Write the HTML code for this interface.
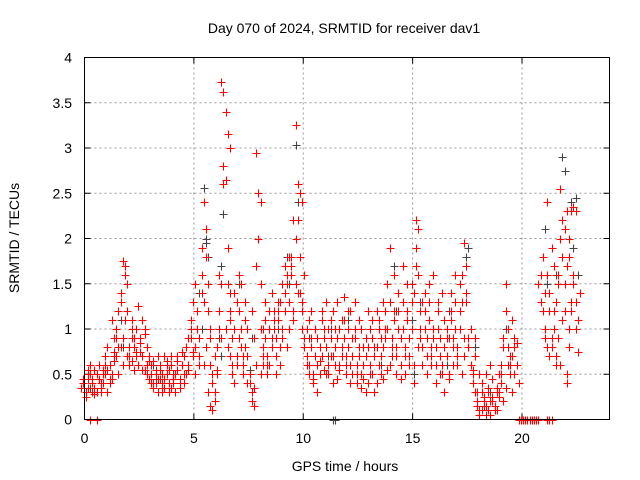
<!DOCTYPE html>
<html><head><meta charset="utf-8"><style>
body{margin:0;background:#fff}
svg{display:block;font-family:"Liberation Sans",sans-serif}
</style></head><body>
<svg id="chart" width="640" height="480" xmlns="http://www.w3.org/2000/svg">
<text x="344" y="33" font-size="14" text-anchor="middle">Day 070 of 2024, SRMTID for receiver dav1</text>
<text transform="translate(19,238) rotate(-90)" font-size="14" text-anchor="middle">SRMTID / TECUs</text>
<text x="345" y="471" font-size="14" text-anchor="middle">GPS time / hours</text>
<g id="grid"></g><g id="ticks"></g><g id="gray"></g><g id="red"></g>
<rect x="84.5" y="57.5" width="525" height="362" fill="none" stroke="#000" stroke-width="1"/>
</svg>
<script>
const xTicks=[0,5,10,15,20];
const yTicks=[0,0.5,1,1.5,2,2.5,3,3.5,4];
const yTickLabels=["0","0.5","1","1.5","2","2.5","3","3.5","4"];
const redTimes=[0,0.1,0.2,0.3,0.4,0.5,0.6,0.7,0.8,0.9,1.0,1.1,1.2,1.3,1.4,1.5,1.6,1.7,1.8,1.9,2.0,2.1,2.2,2.3,2.4,2.5,2.6,2.7,2.8,2.9,3.0,3.1,3.2,3.3,3.4,3.5,3.6,3.7,3.8,3.9,4.0,4.1,4.2,4.3,4.4,4.5,4.6,4.7,4.8,4.9,5.0,5.1,5.2,5.3,5.4,5.5,5.6,5.7,5.8,5.9,6.0,6.1,6.2,6.3,6.4,6.5,6.6,6.7,6.8,6.9,7.0,7.1,7.2,7.3,7.4,7.5,7.6,7.7,7.8,7.9,8.0,8.1,8.2,8.3,8.4,8.5,8.6,8.7,8.8,8.9,9.0,9.1,9.2,9.3,9.4,9.5,9.6,9.7,9.8,9.9,10.0,10.1,10.2,10.3,10.4,10.5,10.6,10.7,10.8,10.9,11.0,11.1,11.2,11.3,11.4,11.5,11.6,11.7,11.8,11.9,12.0,12.1,12.2,12.3,12.4,12.5,12.6,12.7,12.8,12.9,13.0,13.1,13.2,13.3,13.4,13.5,13.6,13.7,13.8,13.9,14.0,14.1,14.2,14.3,14.4,14.5,14.6,14.7,14.8,14.9,15.0,15.1,15.2,15.3,15.4,15.5,15.6,15.7,15.8,15.9,16.0,16.1,16.2,16.3,16.4,16.5,16.6,16.7,16.8,16.9,17.0,17.1,17.2,17.3,17.4,17.5,17.6,17.7,17.8,17.9,18.0,18.1,18.2,18.3,18.4,18.5,18.6,18.7,18.8,18.9,19.0,19.1,19.2,19.3,19.4,19.5,19.6,19.7,19.8,20.0,20.1,20.2,20.3,20.4,20.5,20.6,20.7,20.8,20.9,21.0,21.1,21.2,21.3,21.4,21.5,21.6,21.7,21.8,21.9,22.0,22.1,22.2,22.3,22.4,22.5,22.6];
const redValues=[[.35,.45,.3,.5],[.4,.3,.55],[.25,.45,.6],[.35,.5,.3],[0,.45,.28,0],[.4,.55,.3],[.35,.5,.45],[.3,.6,.4],[.45,.3,.55],[.35,.5,.7],[.4,.6,.3],[.5,.8,.45],[.55,.4,1.1,.7],[.6,.45,.9],[.5,.75,1.0],[.65,.9,.5],[.7,1.2,.8],[.8,1.4,.6],[1.3,.9,1.1],[1.75,1.6,.7],[1.7,1.2,.6,.9],[1.5,.8,1.0],[.7,1.1,.55],[.65,.9,.75],[.8,1.0,.6],[.7,1.25,.9],[.6,.85,1.1],[.75,.55,.95],[.7,1.0,.6],[.55,.8,.65],[.5,.7,.4],[.45,.6,.35],[.5,.65,.4],[.4,.55,.3],[.5,.7,.45,.35],[.45,.6,.3],[.55,.4,.7],[.5,.35,.65],[.45,.6,.3],[.5,.4,.7],[.55,.35,.45],[.6,.4,.5],[.45,.3,.65],[.5,.7,.4],[.55,.35,.6],[.45,.75,.5],[.6,.4,.8],[.7,.5,.9],[.8,.55,1.0],[.6,1.1,.75],[.9,1.3,.5],[.7,1.5,1.0],[.8,1.2,.6],[1.0,.7,1.4],[.9,1.6,.6],[1.9,1.3,.8],[2.4,2.1,1.5,1.0],[1.8,1.2,.6],[.3,.9,.5],[.15,.4,.7],[.1,.3,.55],[.2,.8,1.2],[.5,1.0,1.5],[1.6,.9,2.6],[3.73,3.62,3.4,3.15,3.0],[2.8,2.65,1.9,1.4],[1.0,1.5,.7],[.8,1.2,.5],[1.1,.6,1.4],[.9,.4,1.3],[1.0,.7,1.6],[.6,1.2,.8],[.9,1.5,.5],[1.0,.7,1.3],[.6,1.1,.4],[.8,1.0,.5],[.7,.4,1.2],[.5,.3,.9],[.2,.35,.6],[.15,1.7,2.0,.5],[2.95,2.5,2.4,1.0],[2.0,1.5,.7],[1.0,.6,1.3],[.8,1.1,.5],[.9,.6,1.2],[.7,1.0,1.4],[.6,.9,1.2],[.8,1.1,.5],[1.0,.7,1.3],[.9,1.2,.6],[1.1,.8,1.5],[1.3,.9,1.7],[1.0,1.4,.8],[1.2,1.6,1.8],[1.5,1.0,1.7],[1.3,1.8,1.1],[1.6,1.2,2.0],[2.2,1.5,1.4],[3.25,2.6,2.5,2.4],[2.2,1.8,1.3],[1.4,1.0,1.6],[1.2,.8,1.0],[.9,.6,1.1],[.7,.5,1.2],[.6,.9,.45],[.8,.5,1.0],[.4,.7,.3],[1.0,.6,.5],[.9,.65,1.2],[.8,1.1,.55],[.7,1.0,.5],[.9,1.3,.6],[.8,.5,1.1],[1.0,.7,.4],[.9,1.2,.6],[.7,1.0,.45],[.8,1.3,.55],[.9,.6,1.1],[1.0,.7,1.35],[.8,1.1,.5],[.9,.6,1.2],[.7,1.0,.4],[.8,1.2,.5],[.6,.9,1.3],[.7,1.0,.4],[.9,.5,1.1],[.6,.8,.35],[.7,1.0,.45],[.5,.8,.3],[.6,.9,1.2],[.7,.4,1.0],[.8,.5,1.1],[.6,.9,.3],[.5,.8,1.2],[.7,.4,1.0],[.8,1.1,.5],[.6,.9,1.3],[.7,.45,1.0],[.8,1.2,.55],[.9,1.5,.6],[1.0,1.9,.7],[1.3,.8,1.6],[.9,1.2,.5],[1.1,.7,1.4],[.8,1.0,.45],[1.2,.6,1.7],[.9,1.3,.5],[1.0,.7,1.5],[.8,1.2,.6],[1.1,.7,1.5],[.9,1.3,.4],[1.0,.6,1.7],[1.4,1.9,.8],[2.2,2.1,1.2],[1.6,.9,1.3],[1.0,.6,1.4],[.8,1.2,.5],[1.0,.7,1.5],[.9,1.3,.6],[1.1,.8,1.6],[.7,1.0,.4],[.9,.6,1.3],[.8,1.2,.5],[1.0,.7,1.4],[.9,.5,1.1],[.6,.3,.9],[.8,1.0,.5],[.7,.45,1.2],[.9,1.4,.6],[1.1,.8,1.6],[.9,1.3,.6],[1.0,.7,1.5],[.8,1.2,.5],[1.0,1.6,.7],[1.3,.9,1.4],[1.95,1.7,.8],[1.3,.9,.6],[.8,1.0,.55],[.6,.5,.9],[.4,.7,.3],[.3,.15,.5],[.2,.1,.4],[.05,.3,.15],[.1,.25,.5],[.2,.05,.35],[.15,.3,.6],[.1,.2,.45],[.05,.25,.15],[.2,.1,.35],[.15,.3,.5],[.1,.25,.4],[.3,.6,.2],[.5,.8,.35],[.9,1.2,.6],[1.5,1.0,.7],[.8,.5,1.1],[.6,.3,.9],[.7,.5,.85],[.8,.6,.4],[0,0],[0,0],[0,0],[0,0],[0,0],[0,0],[0,0],[0,0],[0,0],[1.5,1.3,1.8,.9,0],[1.6,1.2,1.0,0],[1.8,1.4,.8,0],[1.0,1.6,.7,0],[2.4,1.2,1.9],[1.4,.9,1.7],[.8,1.2,.6],[1.0,.7,1.5],[1.3,.9,2.0],[1.6,.6,1.1],[2.55,1.8,1.2,.4],[2.2,1.5,.5,.8],[2.1,1.7,1.0],[2.3,2.0,1.3],[1.8,1.2,1.6],[2.3,1.5,1.0],[2.35,1.3,.75],[2.3,1.1,1.4]];
const grayTimes=[0.2,0.9,1.7,2.3,3.2,4.1,4.8,5.3,5.5,5.6,6.2,6.3,6.7,7.1,7.6,8.3,8.9,9.3,9.7,10.3,11.2,11.4,12.1,12.8,13.5,14.2,14.4,15.0,15.4,16.0,16.6,17.5,17.9,18.6,19.3,21.1,21.6,21.9,22.3,22.5];
const grayValues=[[.5,.35],[.55],[1.1,.8],[.9],[.6,.45],[.5],[.9],[1.4,1.0],[2.56,2.0],[1.95,1.8],[.9,.7],[1.7,2.27],[1.2,.5],[1.5],[.55,.9],[1.3],[1.0,.8],[1.8,1.5],[3.03,2.4],[.9],[.7,1.0],[0,0],[1.1],[.8],[1.0,.6],[1.7,1.2],[1.4],[1.1,.5],[1.3,.8],[1.0],[.6,1.2],[1.8,1.9],[.8],[.3],[1.0],[2.1,1.5],[1.6],[2.9,2.75],[2.4,1.9],[2.45,1.6]];

const svg=document.getElementById('chart'),NS='http://www.w3.org/2000/svg';
const X0=84.5,X1=609.5,Y0=419.5,Y1=57.5;
function xs(h){return X0+h/24*(X1-X0);}
function ys(v){return Y0-v/4*(Y0-Y1);}
function mk(tag,attrs,parent){const e=document.createElementNS(NS,tag);for(const k in attrs)e.setAttribute(k,attrs[k]);parent.appendChild(e);return e;}
const grid=document.getElementById('grid'),ticks=document.getElementById('ticks');
xTicks.forEach(t=>{
  const x=xs(t);
  if(t>0){const g=mk('line',{x1:x,x2:x,y1:Y1,y2:Y0,stroke:'#999','stroke-dasharray':'2,3'},grid);
  
  }
  const tk=mk('line',{x1:x,x2:x,y1:Y0,y2:Y0-6,stroke:'#000'},ticks);
  
  
  const tk2=mk('line',{x1:x,x2:x,y1:Y1,y2:Y1+6,stroke:'#000'},ticks);
  
  
  const l=mk('text',{x:x,y:443,'font-size':14,'text-anchor':'middle'},ticks);l.textContent=t;
  
  
});
yTicks.forEach((v,i)=>{
  const y=ys(v);
  if(v>0&&v<4){const g=mk('line',{x1:X0,x2:X1,y1:y,y2:y,stroke:'#999','stroke-dasharray':'2,3'},grid);
  
  }
  const tk=mk('line',{x1:X0,x2:X0+6,y1:y,y2:y,stroke:'#000'},ticks);
  
  
  const tk2=mk('line',{x1:X1,x2:X1-6,y1:y,y2:y,stroke:'#000'},ticks);
  
  
  const l=mk('text',{x:72,y:y+5,'font-size':14,'text-anchor':'end'},ticks);l.textContent=yTickLabels[i];
  
  
});
function plus(parent,t,v,color,j){
  const x=Math.round(xs(t)+j*2.2)+0.5,y=Math.round(ys(v))+0.5;
  const p=mk('path',{d:`M${x-4} ${y}H${x+4}M${x} ${y-4}V${y+4}`,stroke:color,'stroke-width':1.1,fill:'none'},parent);
  
  
}
const gg=document.getElementById('gray'),rg=document.getElementById('red');
grayTimes.forEach((t,i)=>grayValues[i].forEach((v,j)=>plus(gg,t,v,'#444',j-0.5)));
redTimes.forEach((t,i)=>redValues[i].forEach((v,j)=>plus(rg,t,v,'#f00',j-1.5)));
</script>
</body></html>
